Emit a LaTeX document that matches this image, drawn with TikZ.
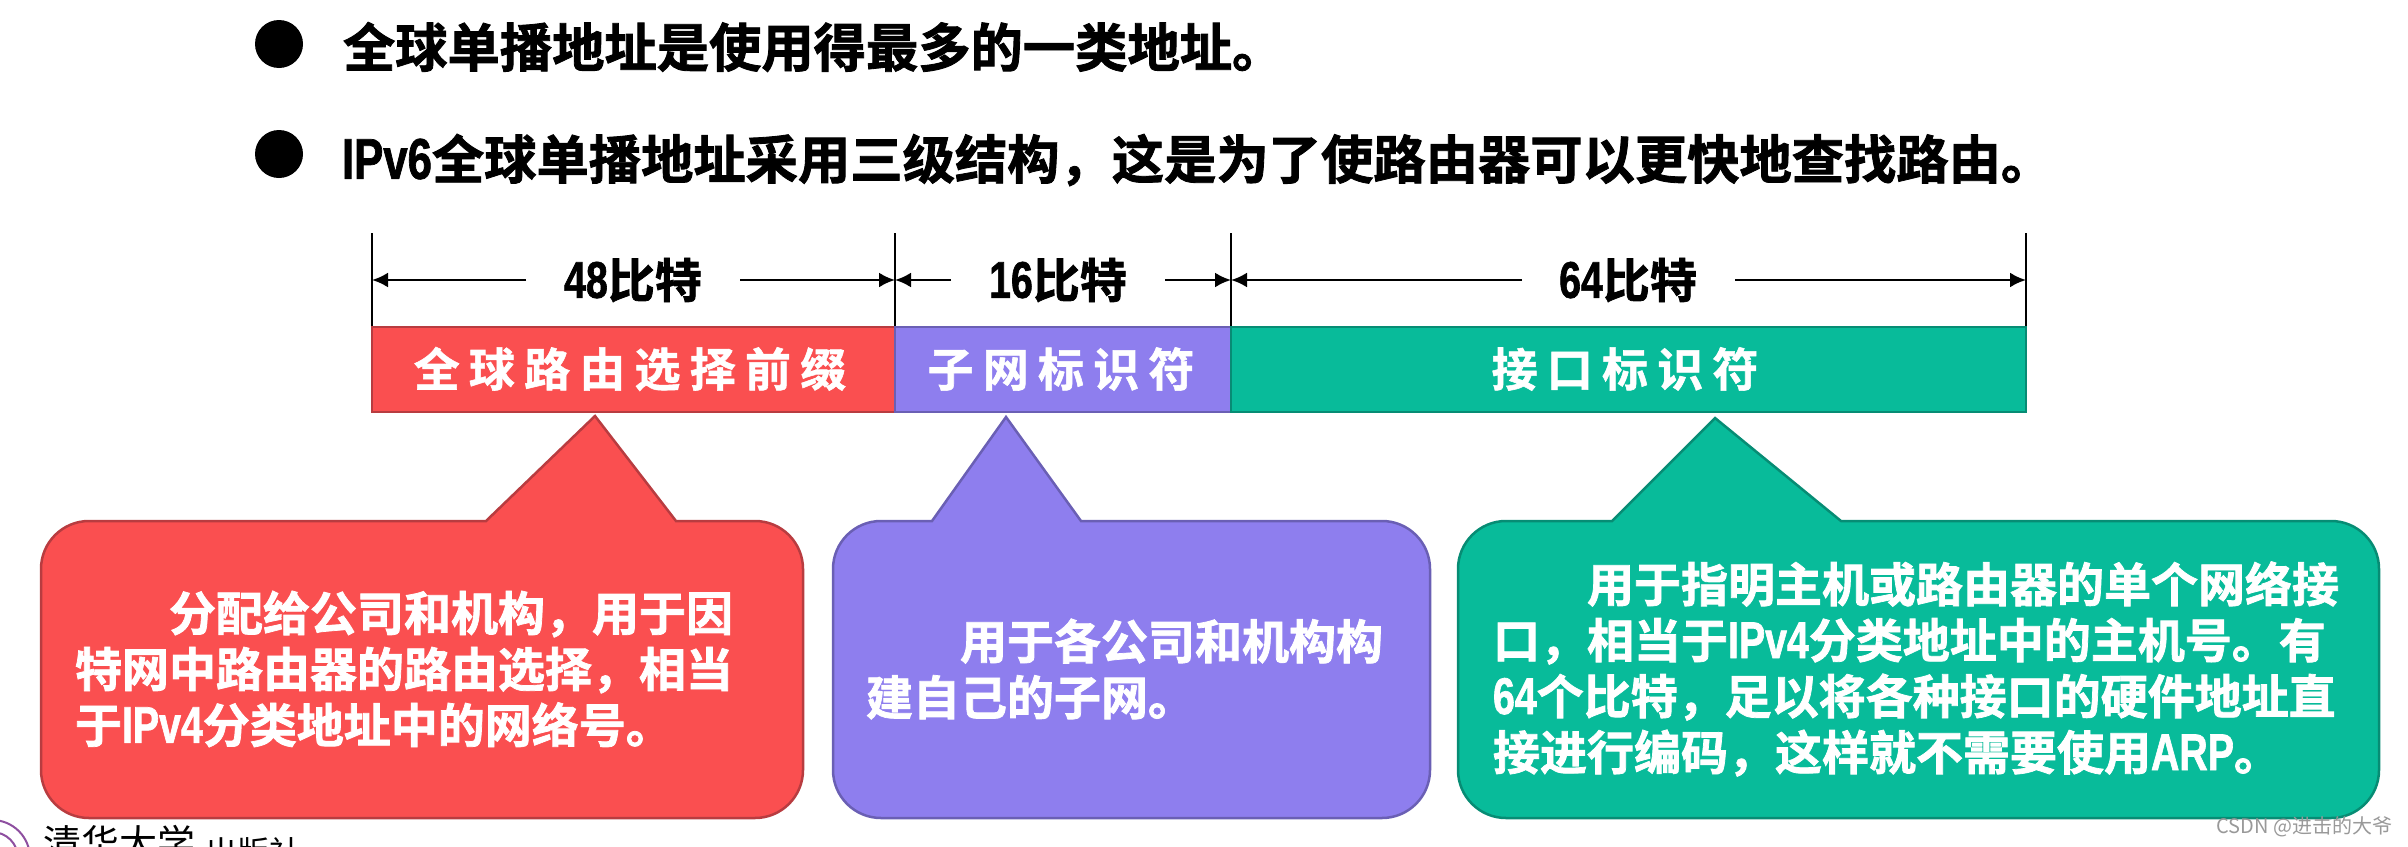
\documentclass[tikz,border=0pt]{standalone}
\usepackage{fontspec}
\setmainfont{Noto Sans CJK SC}[BoldFont=* Bold,BoldFeatures={FakeBold=1.6}]
\newfontfamily\latnarrow{Liberation Sans Bold}[FakeStretch=0.76,Scale=1.1,FakeBold=1.2]
\newfontfamily\cjkwide{Noto Sans CJK SC Bold}[LetterSpace=20,FakeBold=1.2]
\newcommand{\lat}[1]{{\latnarrow #1}}
\usepackage{tikz}
\usetikzlibrary{arrows.meta}
\definecolor{redfill}{HTML}{FA4F50}
\definecolor{redline}{HTML}{B83C40}
\definecolor{purplefill}{HTML}{8E7EEE}
\definecolor{purpleline}{HTML}{6A5FB4}
\definecolor{greenfill}{HTML}{08BB9A}
\definecolor{greenline}{HTML}{078C74}
\definecolor{logoline}{HTML}{8E4FA0}
\tikzset{
	x=1pt,
	y=-1pt,
	>={Latex[length=16pt,width=15pt]},
	every node/.style={inner sep=0pt, outer sep=0pt},
	dot/.style={circle, fill=black, minimum size=48pt},
	headline/.style={anchor=west, font=\fontsize{52.3}{60}\selectfont\bfseries},
	bitlabel/.style={font=\fontsize{47}{56}\selectfont\bfseries},
	tick/.style={draw=black, line width=2pt},
	dim/.style={->, draw=black, line width=2.5pt},
	barlabel/.style={text=white, font=\fontsize{46}{56}\cjkwide},
	note/.style={anchor=west, align=left, text=white, font=\fontsize{47}{56}\selectfont\bfseries},
	redbox/.style={fill=redfill, draw=redline, line width=2.5pt},
	purplebox/.style={fill=purplefill, draw=purpleline, line width=2.5pt},
	greenbox/.style={fill=greenfill, draw=greenline, line width=2.5pt},
	logoring/.style={circle, draw=logoline, line width=2pt},
}
\begin{document}
\begin{tikzpicture}
      \useasboundingbox (0,0) rectangle (2408,846);

      % bullets
      \node[dot] (dot1) at (279,44) {};
      \node[dot] (dot2) at (279,154) {};
      \node[headline] (line1) at (343,47) {全球单播地址是使用得最多的一类地址。};
      \node[headline] (line2) at (342,160) {\lat{IPv6}全球单播地址采用三级结构，这是为了使路由器可以更快地查找路由。};

      % ticks
      \coordinate (t1) at (372,233);
      \coordinate (t2) at (895,233);
      \coordinate (t3) at (1231,233);
      \coordinate (t4) at (2026,233);
      \coordinate (b1) at (372,327);
      \coordinate (b2) at (895,327);
      \coordinate (b3) at (1231,327);
      \coordinate (b4) at (2026,327);
      \draw[tick] (t1) -- (b1);
      \draw[tick] (t2) -- (b2);
      \draw[tick] (t3) -- (b3);
      \draw[tick] (t4) -- (b4);

      % dimensions
      \node[bitlabel] (bits48) at (633,280) {\lat{48}比特};
      \node[bitlabel] (bits16) at (1058,280) {\lat{16}比特};
      \node[bitlabel] (bits64) at (1628,280) {\lat{64}比特};
      \coordinate (m1) at (372,280);
      \coordinate (m2) at (895,280);
      \coordinate (m3) at (1231,280);
      \coordinate (m4) at (2026,280);
      \coordinate (g1) at (526,280);
      \coordinate (g2) at (740,280);
      \coordinate (g3) at (951,280);
      \coordinate (g4) at (1165,280);
      \coordinate (g5) at (1522,280);
      \coordinate (g6) at (1735,280);
      \draw[dim] (g1) -- (m1);
      \draw[dim] (g2) -- (m2);
      \draw[dim] (g3) -- (m2);
      \draw[dim] (g4) -- (m3);
      \draw[dim] (g5) -- (m3);
      \draw[dim] (g6) -- (m4);

      % bar
      \fill[redbox] (372,327) rectangle (895,412);
      \fill[purplebox] (895,327) rectangle (1231,412);
      \fill[greenbox] (1231,327) rectangle (2026,412);
      \node[barlabel] (prefix) at (630,369) {全球路由选择前缀};
      \node[barlabel] (subnet) at (1061,369) {子网标识符};
      \node[barlabel] (iface) at (1625,369) {接口标识符};

      % callouts
      \draw[redbox] (486,521) -- (595,416) -- (676,521) [rounded corners=48] -- (803,521) -- (803,818) -- (41,818) -- (41,521) [sharp corners] -- cycle;
      \draw[purplebox] (932,521) -- (1006,417) -- (1081,521) [rounded corners=48] -- (1430,521) -- (1430,818) -- (833,818) -- (833,521) [sharp corners] -- cycle;
      \draw[greenbox] (1612,521) -- (1715,418) -- (1841,521) [rounded corners=48] -- (2379,521) -- (2379,818) -- (1458,818) -- (1458,521) [sharp corners] -- cycle;

      \node[note] (note1) at (75,669) {\hspace*{2em}分配给公司和机构，用于因\\特网中路由器的路由选择，相当\\于\lat{IPv4}分类地址中的网络号。};
      \node[note] (note2) at (866,669) {\hspace*{2em}用于各公司和机构构\\建自己的子网。};
      \node[note] (note3) at (1493,669) {\hspace*{2em}用于指明主机或路由器的单个网络接\\口，相当于\lat{IPv4}分类地址中的主机号。有\\\lat{64}个比特，足以将各种接口的硬件地址直\\接进行编码，这样就不需要使用\lat{ARP}。};

      % press logo, cut off by the page edge
      \node[logoring, minimum size=76pt] (logo) at (-8,858) {};
      \node[logoring, minimum size=52pt] (logoin) at (-8,858) {};
      \node[anchor=west, font=\fontsize{38}{42}\selectfont] (press) at (43,843) {清华大学};
      \node[anchor=west, font=\fontsize{32}{36}\selectfont] (press2) at (205,852) {出版社};

      % watermark
      \node[anchor=east, text=black!40, font=\fontsize{20}{24}\selectfont] (mark) at (2392,827) {CSDN @进击的大爷};
\end{tikzpicture}
\end{document}
